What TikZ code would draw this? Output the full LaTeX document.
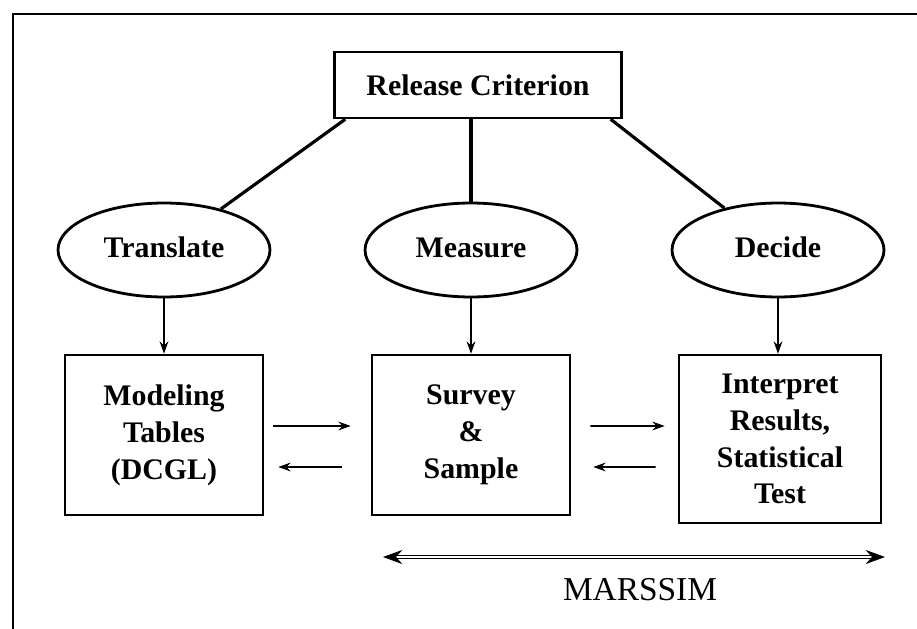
\documentclass[tikz,border=0pt]{standalone}
\usepackage{fontspec}
\setmainfont{Liberation Serif}
\usetikzlibrary{shapes.geometric,arrows.meta}

\begin{document}
\begin{tikzpicture}[
  x=0.02cm, y=-0.02cm,
  every node/.style={align=center, font=\bfseries\fontsize{17}{21}\selectfont},
  box/.style={draw, line width=1.5pt, minimum width=3.96cm, minimum height=3.2cm, inner sep=0pt},
  oval/.style={draw, ellipse, line width=1.6pt, minimum width=4.24cm, minimum height=1.88cm, inner sep=0pt, text height=12pt, text depth=3pt},
  link/.style={line width=1.8pt},
  arrow/.style={-{Stealth[length=7pt,width=5pt]}, line width=0.9pt},
  span/.style={{Stealth[length=11pt,width=8pt]}-{Stealth[length=11pt,width=8pt]}, double, double distance=1.2pt, line width=0.5pt}
]
\useasboundingbox (0,0) rectangle (917,629);
% frame, open at right and bottom
\draw[line width=1.4pt] (917,14) -- (13,14) -- (13,629);

\node[draw, line width=1.4pt, minimum width=5.74cm, minimum height=1.32cm] (release) at (478,85) {Release Criterion};

% three steps
\node[oval] (translate) at (164,250) {Translate};
\node[oval] (measure) at (471,250) {Measure};
\node[oval] (decide) at (778,250) {Decide};

\node[box] (model) at (164,435) {Modeling\\ Tables\\ (DCGL)};
\node[box] (survey) at (471,435) {Survey\\ \&\\ Sample};
\node[box, minimum width=4.04cm, minimum height=3.36cm] (interp) at (780,439) {Interpret\\ Results,\\ Statistical\\ Test};

\draw[link] ([xshift=0.24cm]release.south west) -- (translate);
\draw[link] (release.south -| measure) -- (measure);
\draw[link] ([xshift=-0.24cm]release.south east) -- (decide);

\draw[arrow] (translate) -- (model);
\draw[arrow] (measure) -- (survey);
\draw[arrow] (decide) -- (decide |- interp.north);

% back and forth between the boxes
\draw[arrow, shorten <=0.18cm, shorten >=0.4cm] ([yshift=0.18cm]model.east) -- ([yshift=0.18cm]survey.west);
\draw[arrow, shorten <=0.58cm, shorten >=0.28cm] ([yshift=-0.64cm]survey.west) -- ([yshift=-0.64cm]model.east);
\draw[arrow, shorten <=0.38cm, shorten >=0.26cm] ([yshift=0.18cm]survey.east) -- ([yshift=0.26cm]interp.west);
\draw[arrow, shorten <=0.44cm, shorten >=0.44cm] ([yshift=-0.56cm]interp.west) -- ([yshift=-0.64cm]survey.east);

\coordinate (span-l) at (383,557);
\coordinate (span-r) at (885,557);
\draw[span] (span-l) -- (span-r);
\node[font=\fontsize{19}{22}\selectfont] (marssim) at (640,590) {MARSSIM};
\end{tikzpicture}
\end{document}
